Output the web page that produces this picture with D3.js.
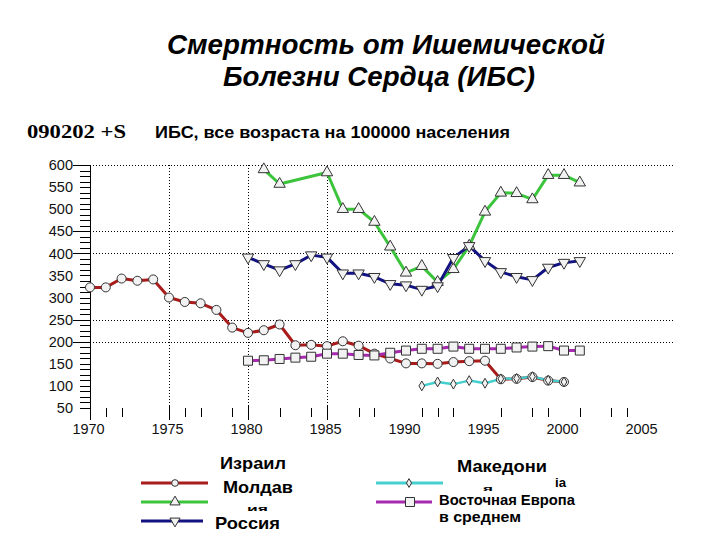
<!DOCTYPE html>
<html><head><meta charset="utf-8">
<script src="https://cdn.jsdelivr.net/npm/d3@7"></script>
<style>body{margin:0;background:#fff}svg{display:block}</style>
</head><body>
<script>
// ---- data ----
const israelYears = d3.range(1970, 2001);
const israelValues = [323,323,343,338,341,300,290,287,272,232,220,226,239,192,193,190,201,191,173,162,151,151,150,154,156,157,115,116,120,112,109];
const moldovaYears = [1981,1982,1985,1986,1987,1988,1989,1990,1991,1992,1993,1994,1995,1996,1997,1998,1999,2000,2001];
const moldovaValues = [590,557,583,500,500,471,415,356,371,335,364,417,494,537,536,522,577,577,560];
const russiaYears = d3.range(1980, 2002);
const russiaValues = [391,376,362,376,396,391,355,355,347,331,328,318,326,390,417,383,358,347,340,368,379,383];
const macedoniaYears = d3.range(1991, 2001);
const macedoniaValues = [100,109,104,112,106,116,117,121,113,109];
const eeYears = d3.range(1980, 2002);
const eeValues = [157,158,161,164,166,173,173,170,169,175,180,184,184,189,184,184,184,187,189,190,180,180];
const yTickLabels = [600,550,500,450,400,350,300,250,200,150,100,50];
const yGridValues = [600,450,400,250,200];
const xTickLabels = [1970,1975,1980,1985,1990,1995,2000,2005];
const xGridYears = [1975,1980,1985];
const xMajorTickYears = [1970,1975,1980,1985];
const xMinorTickYears = [1971,1972,1976,1977,1979,1982,1984,1987,1988,1991,1992,1993,1996,1998,1999,2001,2003,2004];

const W = 720, H = 540;
const svg = d3.select("body").append("svg").attr("width", W).attr("height", H);
const x = d3.scaleLinear().domain([1970, 2005]).range([90, 643]);
const y = d3.scaleLinear().domain([50, 600]).range([408, 165]);

// title
const title = svg.append("text").attr("text-anchor", "middle")
  .attr("font-family", "Liberation Sans, Arial, sans-serif").attr("font-weight", "bold")
  .attr("font-style", "italic").attr("font-size", 28).attr("fill", "#000");
title.append("tspan").attr("x", 386).attr("y", 54).attr("textLength", 438).attr("lengthAdjust", "spacingAndGlyphs").text("Смертность от Ишемической");
title.append("tspan").attr("x", 379).attr("y", 86).attr("textLength", 312).attr("lengthAdjust", "spacingAndGlyphs").text("Болезни Сердца (ИБС)");

svg.append("text").attr("x", 27).attr("y", 138).attr("font-family", "Liberation Serif, Times New Roman, serif")
  .attr("font-weight", "bold").attr("font-size", 19).attr("textLength", 99).attr("lengthAdjust", "spacingAndGlyphs")
  .text("090202 +S");
svg.append("text").attr("x", 155).attr("y", 138).attr("font-family", "Liberation Sans, Arial, sans-serif")
  .attr("font-weight", "bold").attr("font-size", 16).attr("textLength", 355).attr("lengthAdjust", "spacingAndGlyphs")
  .text("ИБС, все возраста на 100000 населения");

// grid
const g = svg.append("g");
g.selectAll(".hg").data(yGridValues).join("line")
  .attr("x1", 90).attr("x2", 673).attr("y1", d => Math.round(y(d)) + 0.5).attr("y2", d => Math.round(y(d)) + 0.5)
  .attr("stroke", "#000").attr("stroke-width", 1).attr("stroke-dasharray", "1,2");
g.selectAll(".vg").data(xGridYears).join("line")
  .attr("x1", d => Math.round(x(d)) + 0.5).attr("x2", d => Math.round(x(d)) + 0.5).attr("y1", 165).attr("y2", 405)
  .attr("stroke", "#000").attr("stroke-width", 1).attr("stroke-dasharray", "1,2");

// y axis
const yAxis = d3.axisLeft(y).tickValues(yTickLabels).tickSize(0).tickPadding(17).tickFormat(d3.format("d"));
const ya = svg.append("g").attr("transform", "translate(90,0)").call(yAxis);
ya.select(".domain").remove();
ya.selectAll("text").attr("font-family", "Liberation Sans, Arial, sans-serif").attr("font-size", 14.5).attr("fill", "#111");
svg.append("line").attr("x1", 90.5).attr("x2", 90.5).attr("y1", 165).attr("y2", 420).attr("stroke", "#000");
const minorY = d3.range(50, 600.1, 12.5);
svg.selectAll(".ymt").data(minorY).join("line")
  .attr("x1", d => yGridValues.includes(d) ? 73 : 80).attr("x2", 90)
  .attr("y1", d => Math.round(y(d)) + 0.5).attr("y2", d => Math.round(y(d)) + 0.5)
  .attr("stroke", "#000").attr("stroke-width", 1);

// x axis
const xAxis = d3.axisBottom(x).tickValues(xTickLabels).tickSize(0).tickPadding(0).tickFormat(d3.format("d"));
const xa = svg.append("g").attr("transform", "translate(0,424)").call(xAxis);
xa.select(".domain").remove();
xa.selectAll("text").attr("font-family", "Liberation Sans, Arial, sans-serif").attr("font-size", 14.5).attr("fill", "#111").attr("dx", -2);
svg.selectAll(".xmaj").data(xMajorTickYears).join("line")
  .attr("x1", d => Math.round(x(d)) + 0.5).attr("x2", d => Math.round(x(d)) + 0.5).attr("y1", 405).attr("y2", 420)
  .attr("stroke", "#000");
svg.selectAll(".xmin").data(xMinorTickYears).join("line")
  .attr("x1", d => Math.round(x(d)) + 0.5).attr("x2", d => Math.round(x(d)) + 0.5).attr("y1", 408).attr("y2", 417)
  .attr("stroke", "#000");

// series
const series = [
  {name: "israel", years: israelYears, values: israelValues, color: "#a81c1c", sym: "circle"},
  {name: "moldova", years: moldovaYears, values: moldovaValues, color: "#3cc43c", sym: "tri"},
  {name: "russia", years: russiaYears, values: russiaValues, color: "#121280", sym: "tridown"},
  {name: "ee", years: eeYears, values: eeValues, color: "#a52aad", sym: "square"},
  {name: "macedonia", years: macedoniaYears, values: macedoniaValues, color: "#45cfcf", sym: "diamond"}
];
const line = d3.line().x(d => x(d[0])).y(d => y(d[1]));
function symPath(sym, s) {
  if (sym === "circle") return d3.symbol(d3.symbolCircle, 64 * s)();
  if (sym === "tri") return d3.symbol(d3.symbolTriangle, 56 * s)();
  if (sym === "tridown") return d3.symbol(d3.symbolTriangle, 56 * s)();
  if (sym === "square") return d3.symbol(d3.symbolSquare, 81 * s)();
  if (sym === "diamond") return d3.symbol(d3.symbolDiamond, 28 * s)();
}
series.forEach(s => {
  const pts = s.years.map((yr, i) => [yr, s.values[i]]);
  svg.append("path").datum(pts).attr("d", line).attr("fill", "none")
    .attr("stroke", s.color).attr("stroke-width", s.name === "macedonia" ? 2.5 : 3).attr("stroke-linejoin", "round");
});
series.forEach(s => {
  const pts = s.years.map((yr, i) => [yr, s.values[i]]);
  svg.append("g").selectAll("path").data(pts).join("path")
    .attr("d", symPath(s.sym, 1))
    .attr("transform", d => `translate(${x(d[0])},${y(d[1])})` + (s.sym === "tridown" ? " rotate(180)" : ""))
    .attr("fill", "#f2f2f2").attr("stroke", "#333").attr("stroke-width", 1);
});

// legend
const lg = svg.append("g");
const legendItems = [
  {color: "#a81c1c", sym: "circle", x1: 141, x2: 208, y: 483, mx: 175, scale: 0.55},
  {color: "#3cc43c", sym: "tri", x1: 141, x2: 208, y: 502, mx: 175, scale: 0.8},
  {color: "#121280", sym: "tridown", x1: 141, x2: 203, y: 521, mx: 175, scale: 0.8},
  {color: "#45cfcf", sym: "diamond", x1: 376, x2: 443, y: 483, mx: 409, scale: 0.8},
  {color: "#a52aad", sym: "square", x1: 376, x2: 432, y: 502, mx: 410, scale: 1.0}
];
legendItems.forEach(it => {
  lg.append("line").attr("x1", it.x1).attr("x2", it.x2).attr("y1", it.y).attr("y2", it.y)
    .attr("stroke", it.color).attr("stroke-width", 3);
  lg.append("path").attr("d", symPath(it.sym, it.scale))
    .attr("transform", `translate(${it.mx},${it.y})` + (it.sym === "tridown" ? " rotate(180)" : ""))
    .attr("fill", "#f2f2f2").attr("stroke", "#333").attr("stroke-width", 1);
});
const defs = svg.append("defs");
defs.append("clipPath").attr("id", "clipIa").append("rect").attr("x", 200).attr("y", 506).attr("width", 100).attr("height", 5);
defs.append("clipPath").attr("id", "clipYa").append("rect").attr("x", 470).attr("y", 485.5).attr("width", 40).attr("height", 6);
const lf = "Liberation Sans, Arial, sans-serif";
function ltext(t, xx, yy, size, len, clip) {
  const e = lg.append("text").attr("x", xx).attr("y", yy).attr("font-family", lf).attr("font-weight", "bold")
    .attr("font-size", size).attr("fill", "#000").text(t);
  if (len) e.attr("textLength", len).attr("lengthAdjust", "spacingAndGlyphs");
  if (clip) e.attr("clip-path", `url(#${clip})`);
}
ltext("Израил", 220, 469, 17, 66);
ltext("Молдав", 223, 493, 17, 70);
ltext("ия", 247, 511.5, 9, 21, "clipIa");
ltext("Россия", 215, 529, 17, 65);
ltext("Македони", 457, 472, 17, 90);
ltext("я", 483, 490.5, 8, 10, "clipYa");
ltext("ia", 555, 487, 13, 11);
ltext("Восточная Европа", 439, 505, 14, 136);
ltext("в среднем", 439, 522, 14, 82);
</script>
</body></html>
